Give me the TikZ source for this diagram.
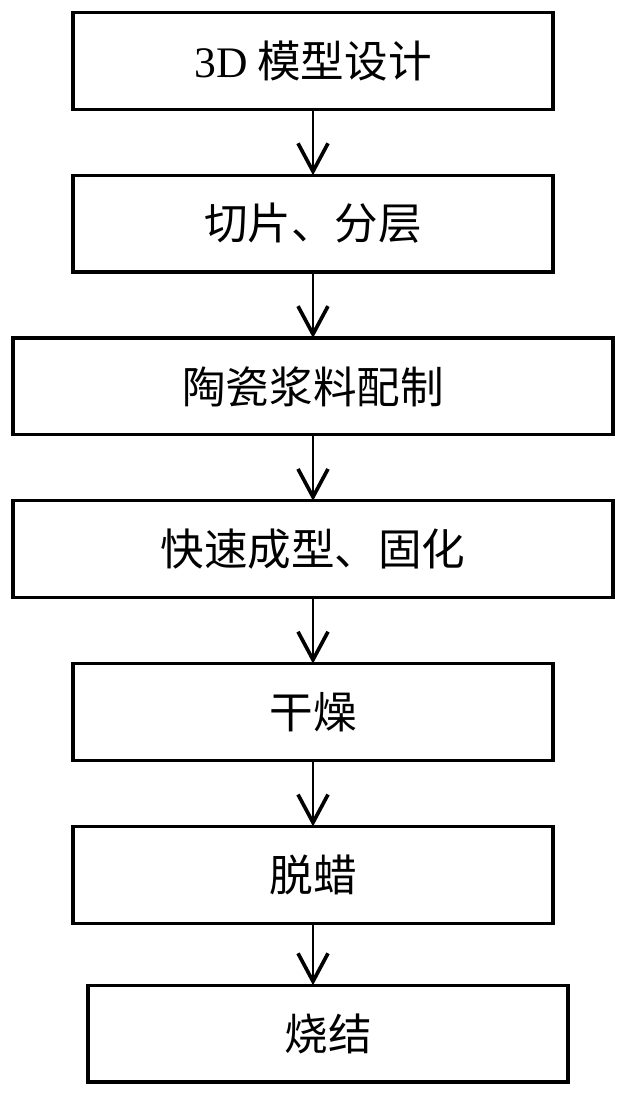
\documentclass[tikz,border=0pt]{standalone}
\usepackage{fontspec}
\setmainfont{Liberation Serif}
\newfontfamily\cjk{Noto Sans CJK SC}
\usepackage{tikz}
\usetikzlibrary{arrows.meta, positioning}

\begin{document}
\begin{tikzpicture}[
    stepbox/.style={rectangle, draw, line width=2.3pt, outer sep=0pt, minimum width=12cm, minimum height=2.42cm, font=\cjk\fontsize{31}{35}\selectfont},
    widebox/.style={stepbox, minimum width=15cm},
    flow/.style={-{Straight Barb[length=7mm, width=7.5mm, line width=2.6pt]}, line width=2.1pt}
]
\useasboundingbox (0,0) rectangle (15.675,-27.375);

% process steps
\node[stepbox] (design) at (7.825,-1.52) {{\rmfamily 3D} 模型设计};
\node[stepbox, below=1.65cm of design] (slice) {切片、分层};
\node[widebox, below=1.65cm of slice] (slurry) {陶瓷浆料配制};
\node[widebox, below=1.65cm of slurry] (forming) {快速成型、固化};
\node[stepbox, below=1.65cm of forming] (drying) {干燥};
\node[stepbox, below=1.65cm of drying] (dewax) {脱蜡};
\node[stepbox, below=1.55cm of dewax, xshift=0.375cm] (sinter) {烧结};

% arrows
\draw[flow] (design) -- (slice);
\draw[flow] (slice) -- (slurry);
\draw[flow] (slurry) -- (forming);
\draw[flow] (forming) -- (drying);
\draw[flow] (drying) -- (dewax);
\draw[flow] (dewax.south) -- (dewax.south |- sinter.north);

\end{tikzpicture}
\end{document}
